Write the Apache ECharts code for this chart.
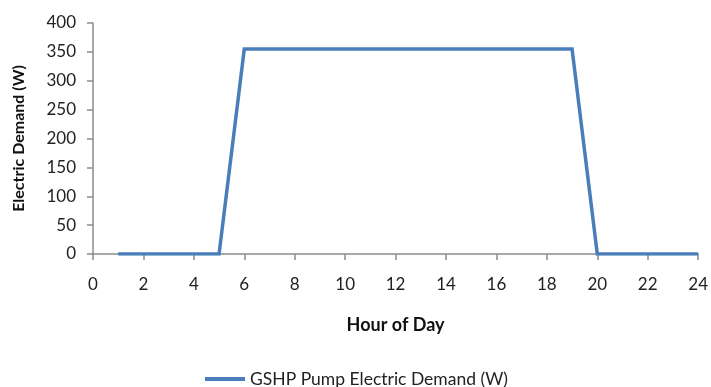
<!DOCTYPE html>
<html>
<head>
<meta charset="utf-8">
<script src="https://cdn.jsdelivr.net/npm/echarts@6/dist/echarts.min.js"></script>
<style>
  html, body { margin: 0; padding: 0; background: #fff; }
  #chart { width: 711px; height: 387px; }
</style>
</head>
<body>
<div id="chart"></div>
<script>
// Hourly electric demand of the ground-source heat pump circulation pump
const hours = [1, 2, 3, 4, 5, 6, 7, 8, 9, 10, 11, 12, 13, 14, 15, 16, 17, 18, 19, 20, 21, 22, 23, 24];
const demandW = [0, 0, 0, 0, 0, 355, 355, 355, 355, 355, 355, 355, 355, 355, 355, 355, 355, 355, 355, 0, 0, 0, 0, 0];
const seriesName = 'GSHP Pump Electric Demand (W)';
const xTitle = 'Hour of Day';
const yTitle = 'Electric Demand (W)';

const font = 'Lato, "Open Sans", sans-serif';
const axisGray = '#8c8c8c';

const chart = echarts.init(document.getElementById('chart'), null, { renderer: 'canvas' });
chart.setOption({
  animation: false,
  grid: { left: 93, right: 10, top: 23, bottom: 133, containLabel: false },
  legend: {
    data: [{ name: seriesName, icon: 'rect' }],
    top: 365,
    left: 200,
    itemWidth: 40,
    itemHeight: 4,
    itemGap: 4,
    textStyle: { fontFamily: font, fontSize: 17.5, color: '#222', padding: [0, 0, 0, 0] }
  },
  xAxis: {
    type: 'value',
    min: 0, max: 24, interval: 2,
    name: xTitle,
    nameLocation: 'middle',
    nameGap: 62,
    nameTextStyle: { fontFamily: font, fontSize: 18, fontWeight: 'bold', color: '#111' },
    axisLine: { show: true, lineStyle: { color: axisGray, width: 1.5 } },
    axisTick: { show: true, inside: false, length: 6, lineStyle: { color: axisGray, width: 1.5 } },
    axisLabel: { fontFamily: font, fontSize: 17, color: '#222', margin: 22 },
    splitLine: { show: false }
  },
  yAxis: {
    type: 'value',
    min: 0, max: 400, interval: 50,
    name: yTitle,
    nameLocation: 'middle',
    nameGap: 66,
    nameRotate: 90,
    nameTextStyle: { fontFamily: font, fontSize: 16, fontWeight: 'bold', color: '#111' },
    axisLine: { show: true, lineStyle: { color: axisGray, width: 1.5 } },
    axisTick: { show: true, inside: false, length: 6, lineStyle: { color: axisGray, width: 1.5 } },
    axisLabel: { fontFamily: font, fontSize: 17, color: '#222', margin: 17 },
    splitLine: { show: false }
  },
  series: [{
    name: seriesName,
    type: 'line',
    data: hours.map((h, i) => [h, demandW[i]]),
    showSymbol: false,
    symbol: 'none',
    itemStyle: { color: '#4a7ebb' },
    lineStyle: { color: '#4a7ebb', width: 3.5, join: 'miter' }
  }]
});
</script>
</body>
</html>
